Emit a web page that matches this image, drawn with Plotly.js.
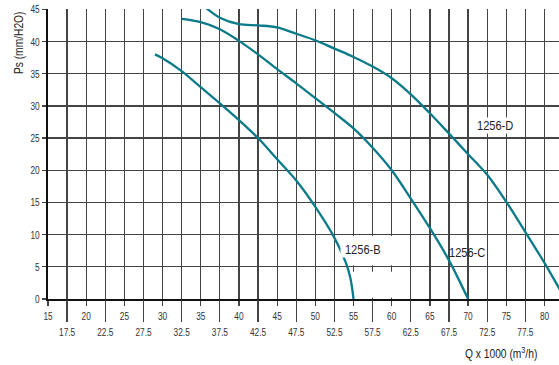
<!DOCTYPE html>
<html>
<head>
<meta charset="utf-8">
<script src="https://cdn.plot.ly/plotly-3.0.1.min.js"></script>
<style>
  html, body { margin: 0; padding: 0; background: #fff; }
  #chart { width: 559px; height: 365px; }
</style>
</head>
<body>
<div id="chart"></div>
<script>
// Fan curves: static pressure Ps (mm H2O) against airflow Q (x1000 m3/h)
const flowB  = [29, 30, 32.5, 35, 37.5, 40, 42.5, 45, 47.5, 50, 52.5, 54, 54.6, 55];
const pressB = [38, 37.4, 35.4, 32.9, 30.4, 27.8, 25, 21.7, 18.4, 14.3, 9.5, 5.6, 3.2, 0];

const flowC  = [32.5, 35, 37.5, 40, 42.5, 45, 47.5, 50, 52.5, 55, 57.5, 60, 62.5, 65, 67.5, 70];
const pressC = [43.5, 43.0, 41.9, 40.1, 38.0, 35.7, 33.5, 31.2, 28.9, 26.5, 23.5, 20.0, 15.6, 11.0, 6.0, 0];

const flowD  = [35.5, 37.5, 40, 42.5, 45, 47.5, 50, 52.5, 55, 57.5, 60, 62.5, 65, 67.5, 70, 72.5, 75, 77.5, 80, 82.7];
const pressD = [45.4, 43.7, 42.7, 42.5, 42.2, 41.2, 40.2, 38.9, 37.6, 36.1, 34.3, 31.8, 28.85, 25.7, 22.5, 19.3, 15.1, 10.4, 5.6, 0];

const curveNames = ['1256-B', '1256-C', '1256-D'];
const labelX = [56.2, 69.9, 73.6];
const labelY = [7.7, 7.3, 27.0];

// Axis ticks: whole-five values on the first row, the .5 values on a second row
const majorTicks = [15, 20, 25, 30, 35, 40, 45, 50, 55, 60, 65, 70, 75, 80];
const halfTicks  = [17.5, 22.5, 27.5, 32.5, 37.5, 42.5, 47.5, 52.5, 57.5, 62.5, 67.5, 72.5, 77.5];
const pressTicks = [0, 5, 10, 15, 20, 25, 30, 35, 40, 45];

const FONT = '"Liberation Sans", Arial, sans-serif';
const NARROW = 0.82;       // horizontal squeeze for titles and curve labels
const TICK_NARROW = 0.72;  // tighter squeeze for the tick numbers
const TEAL = '#0b7a89';
const GRID = '#444';
const xRange = [15, 81.9];

const series = [[flowB, pressB], [flowC, pressC], [flowD, pressD]];
const traces = series.map(([x, y], i) => ({
  type: 'scatter', mode: 'lines', x: x, y: y, name: curveNames[i],
  line: { color: TEAL, width: 2.3, shape: 'spline', smoothing: 0.9 },
  hoverinfo: 'x+y+name'
}));
// empty trace keeps the second-row tick axis attached
traces.push({ type: 'scatter', x: [], y: [], xaxis: 'x2', yaxis: 'y', showlegend: false, hoverinfo: 'skip' });

const annotations = curveNames.map((name, i) => ({
  x: labelX[i], y: labelY[i], xref: 'x', yref: 'y', text: name,
  showarrow: false, font: { family: FONT, size: 13.5, color: '#222' },
  bgcolor: i === 1 ? 'rgba(0,0,0,0)' : '#fff', borderpad: 0
}));
annotations.push({
  xref: 'paper', yref: 'paper', x: 1, y: 0, xanchor: 'right', yanchor: 'middle',
  xshift: -12, yshift: -54,
  text: 'Q x 1000 (m<sup>3</sup>/h)', showarrow: false,
  font: { family: FONT, size: 12.5, color: '#222' }
});
annotations.push({
  xref: 'paper', yref: 'paper', x: 0, y: 1, xanchor: 'center', yanchor: 'top',
  xshift: -29, yshift: 6, textangle: -90,
  text: 'Ps (mm/H2O)', showarrow: false,
  font: { family: FONT, size: 12.5, color: '#222' }
});

const tickFont = { family: FONT, size: 11.5, color: '#333' };

const layout = {
  width: 559, height: 365,
  margin: { l: 48, r: 0, t: 9, b: 66 },
  paper_bgcolor: '#fff', plot_bgcolor: '#fff',
  showlegend: false,
  font: { family: FONT, size: 11, color: '#333' },
  xaxis: {
    range: xRange, tickmode: 'array', tickvals: majorTicks,
    ticks: 'outside', ticklen: 5, tickwidth: 1.25, tickcolor: GRID,
    showgrid: true, gridcolor: GRID, gridwidth: 1.25,
    showline: true, linecolor: '#111', linewidth: 2,
    zeroline: false, tickfont: tickFont
  },
  xaxis2: {
    overlaying: 'x', anchor: 'y', side: 'bottom', range: xRange,
    tickmode: 'array', tickvals: halfTicks,
    ticks: 'outside', ticklen: 22, tickwidth: 1.25, tickcolor: GRID,
    showgrid: true, gridcolor: GRID, gridwidth: 1.25,
    showline: false, zeroline: false, tickfont: tickFont
  },
  yaxis: {
    range: [0, 45.05], tickmode: 'array', tickvals: pressTicks,
    ticks: 'outside', ticklen: 4, tickwidth: 1.25, tickcolor: GRID,
    showgrid: true, gridcolor: GRID, gridwidth: 1.25,
    showline: true, linecolor: '#111', linewidth: 2,
    zeroline: false, tickfont: tickFont
  },
  shapes: [
    // white patch behind the 1256-B label, split by the 5 mm line
    { type: 'rect', xref: 'x', yref: 'y', x0: 53.6, x1: 61.2, y0: 5.25, y1: 9.8,
      fillcolor: '#fff', line: { width: 0 }, layer: 'between' },
    { type: 'rect', xref: 'x', yref: 'y', x0: 53.6, x1: 61.2, y0: 0.2, y1: 4.25,
      fillcolor: '#fff', line: { width: 0 }, layer: 'between' }
  ],
  annotations: annotations
};

Plotly.newPlot('chart', traces, layout, { staticPlot: true, displayModeBar: false }).then(() => {
  // squeeze every label horizontally so it reads like a narrow typeface
  document.querySelectorAll('#chart svg text').forEach(t => {
    const w = t.getComputedTextLength();
    if (w > 0) {
      const k = t.closest('.xtick, .x2tick, .ytick') ? TICK_NARROW : NARROW;
      t.setAttribute('textLength', (w * k).toFixed(2));
      t.setAttribute('lengthAdjust', 'spacingAndGlyphs');
    }
  });
});
</script>
</body>
</html>
